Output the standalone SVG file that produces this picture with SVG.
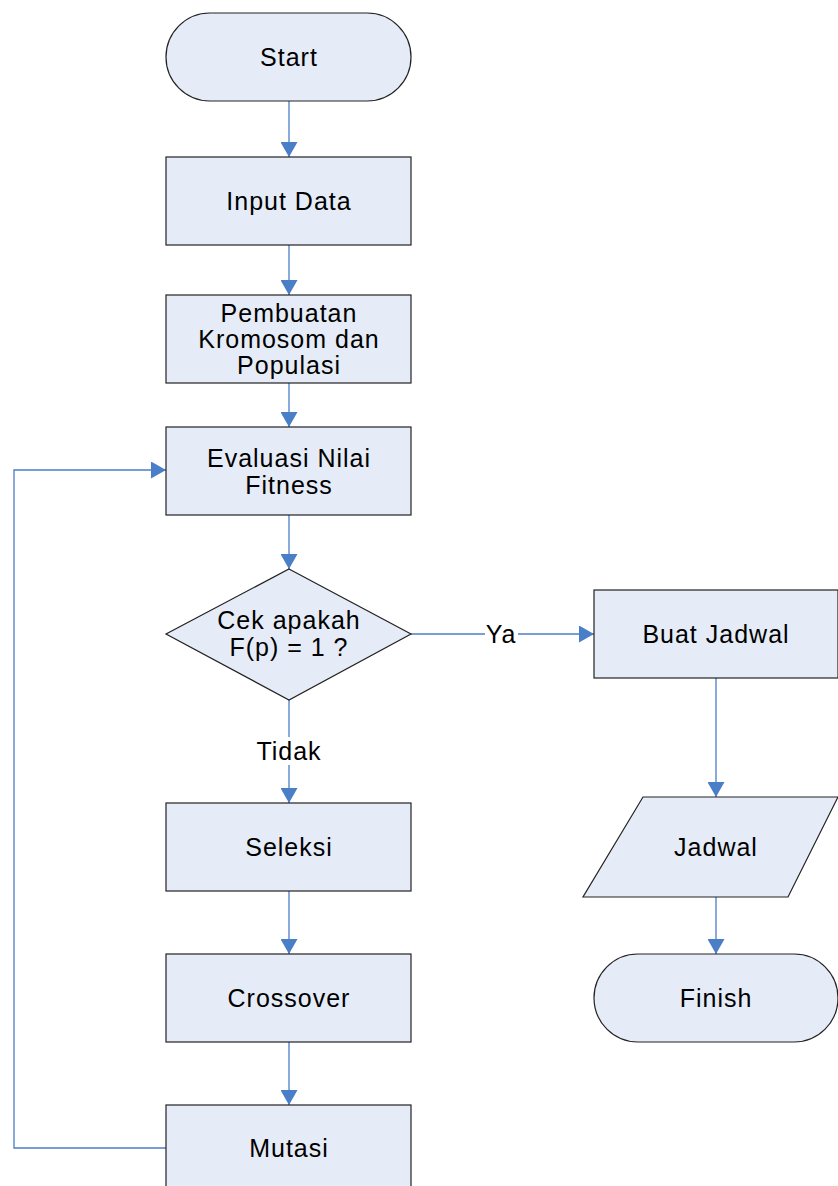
<svg xmlns="http://www.w3.org/2000/svg" width="838" height="1186" viewBox="0 0 838 1186">
<style>
.s{fill:#E6ECF7;stroke:#222;stroke-width:1.2}
.t{font-family:"Liberation Sans",Arial,sans-serif;font-size:25px;letter-spacing:1px;fill:#000;text-anchor:middle;dominant-baseline:central}
.c{fill:none;stroke:#4A7EC7;stroke-width:1.3}
</style>
<defs>
<marker id="a" viewBox="0 0 15 17" refX="15" refY="8.5" markerWidth="15" markerHeight="17" markerUnits="userSpaceOnUse" orient="auto">
<path d="M0,0 L15,8.5 L0,17 Z" fill="#4A7EC7"/>
</marker>
</defs>
<rect width="838" height="1186" fill="#fff"/>
<g id="connectors">
<line class="c" x1="289" y1="101" x2="289" y2="157" marker-end="url(#a)"/>
<line class="c" x1="289" y1="245" x2="289" y2="295" marker-end="url(#a)"/>
<line class="c" x1="289" y1="383" x2="289" y2="427" marker-end="url(#a)"/>
<line class="c" x1="289" y1="515" x2="289" y2="569" marker-end="url(#a)"/>
<line class="c" x1="289" y1="700" x2="289" y2="737"/>
<line class="c" x1="289" y1="765" x2="289" y2="803" marker-end="url(#a)"/>
<line class="c" x1="289" y1="891" x2="289" y2="954" marker-end="url(#a)"/>
<line class="c" x1="289" y1="1042" x2="289" y2="1105" marker-end="url(#a)"/>
<polyline class="c" points="166,1148 14,1148 14,470 166,470" marker-end="url(#a)"/>
<line class="c" x1="411" y1="634" x2="485" y2="634"/>
<line class="c" x1="518" y1="634" x2="594" y2="634" marker-end="url(#a)"/>
<line class="c" x1="716" y1="678" x2="716" y2="797" marker-end="url(#a)"/>
<line class="c" x1="716" y1="897" x2="716" y2="954" marker-end="url(#a)"/>
<text class="t" x="501" y="634">Ya</text>
<text class="t" x="289" y="751">Tidak</text>
</g>
<g id="start"><rect class="s" x="166" y="13" width="245" height="88" rx="44" ry="44"/><text class="t" x="289" y="57">Start</text></g>
<g id="input"><rect class="s" x="166" y="157" width="245" height="88"/><text class="t" x="289" y="201">Input Data</text></g>
<g id="pembuatan"><rect class="s" x="166" y="295" width="245" height="88"/><text class="t"><tspan x="289" y="313">Pembuatan</tspan><tspan x="289" y="339">Kromosom dan</tspan><tspan x="289" y="365">Populasi</tspan></text></g>
<g id="evaluasi"><rect class="s" x="166" y="427" width="245" height="88"/><text class="t"><tspan x="289" y="458">Evaluasi Nilai</tspan><tspan x="289" y="485">Fitness</tspan></text></g>
<g id="cek"><polygon class="s" points="289,569 411,634 289,700 166,634"/><text class="t"><tspan x="289" y="620">Cek apakah</tspan><tspan x="289" y="647">F(p) = 1 ?</tspan></text></g>
<g id="seleksi"><rect class="s" x="166" y="803" width="245" height="88"/><text class="t" x="289" y="847">Seleksi</text></g>
<g id="crossover"><rect class="s" x="166" y="954" width="245" height="88"/><text class="t" x="289" y="998">Crossover</text></g>
<g id="mutasi"><rect class="s" x="166" y="1105" width="245" height="88"/><text class="t" x="289" y="1148">Mutasi</text></g>
<g id="buat"><rect class="s" x="594" y="590" width="244" height="88"/><text class="t" x="716" y="634">Buat Jadwal</text></g>
<g id="jadwal"><polygon class="s" points="643,797 838,797 788,897 583,897"/><text class="t" x="716" y="847">Jadwal</text></g>
<g id="finish"><rect class="s" x="594" y="954" width="244" height="88" rx="44" ry="44"/><text class="t" x="716" y="998">Finish</text></g>
</svg>
